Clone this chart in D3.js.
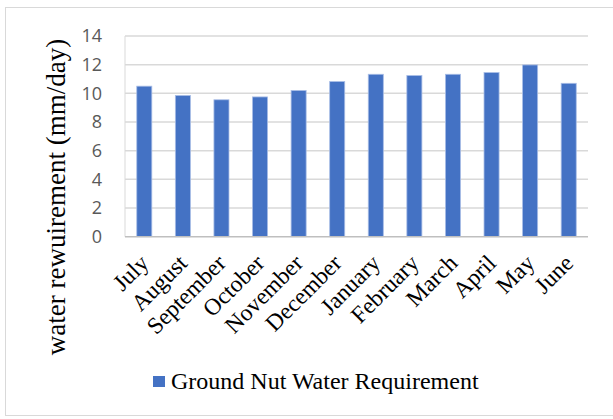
<!DOCTYPE html>
<html>
<head>
<meta charset="utf-8">
<script src="https://cdn.jsdelivr.net/npm/d3@7"></script>
<style>
  body { margin: 0; background: #fff; }
</style>
</head>
<body>
<svg id="chart" width="613" height="419"></svg>
<script>
// values
const months = ["July", "August", "September", "October", "November", "December",
                "January", "February", "March", "April", "May", "June"];
const requirement = [10.5, 9.85, 9.55, 9.75, 10.2, 10.82, 11.33, 11.24, 11.33, 11.45, 11.98, 10.7];
const yTicks = [0, 2, 4, 6, 8, 10, 12, 14];
const seriesName = "Ground Nut Water Requirement";
const yTitle = "water rewuirement (mm/day)";

const serif = "Liberation Serif";
const svg = d3.select("#chart");
const margin = { top: 36, right: 25, bottom: 182.3, left: 125 };
const width = 613 - margin.left - margin.right;
const height = 419 - margin.top - margin.bottom;

// outer chart border
svg.append("rect")
   .attr("x", 5.5).attr("y", 7.5)
   .attr("width", 640).attr("height", 408)
   .attr("fill", "none")
   .attr("stroke", "#d9d9d9");

const g = svg.append("g").attr("transform", `translate(${margin.left},${margin.top})`);

const x = d3.scaleBand().domain(months).range([0, width]).paddingInner(0.61).paddingOuter(0.305);
const y = d3.scaleLinear().domain([0, 14]).range([height, 0]);

// gridlines
g.append("g")
 .selectAll("line")
 .data(yTicks.slice(1))
 .join("line")
 .attr("x1", 0).attr("x2", width)
 .attr("y1", d => y(d)).attr("y2", d => y(d))
 .attr("stroke", "#d9d9d9")
 .attr("stroke-width", 1.5);

// left border line of plot
g.append("line")
 .attr("x1", 0).attr("x2", 0)
 .attr("y1", 0).attr("y2", height)
 .attr("stroke", "#d9d9d9");

// y axis labels
const yAxis = g.append("g")
 .call(d3.axisLeft(y).tickValues(yTicks).tickSize(0).tickPadding(23));
yAxis.attr("font-family", "Open Sans").attr("font-size", 18);
yAxis.select(".domain").remove();
yAxis.selectAll("text").attr("fill", "#595959");

// bars
g.append("g")
 .selectAll("rect")
 .data(requirement)
 .join("rect")
 .attr("x", (d, i) => x(months[i]))
 .attr("y", d => y(d))
 .attr("width", x.bandwidth())
 .attr("height", d => height - y(d))
 .attr("fill", "#4472c4")
 .attr("stroke", "#a8bde6")
 .attr("stroke-width", 0.8);

// x baseline
g.append("line")
 .attr("x1", 0).attr("x2", width)
 .attr("y1", height).attr("y2", height)
 .attr("stroke", "#bfbfbf")
 .attr("stroke-width", 1.5);

// month labels, rotated
g.append("g")
 .selectAll("text")
 .data(months)
 .join("text")
 .attr("transform", d => `translate(${x(d) + x.bandwidth() / 2},${height + 22}) rotate(-45)`)
 .attr("text-anchor", "end")
 .attr("dy", "0.35em")
 .attr("font-family", serif)
 .attr("font-size", 23.5)
 .attr("fill", "#000")
 .text(d => d);

// y title
svg.append("text")
 .attr("transform", "translate(56,197) rotate(-90)")
 .attr("text-anchor", "middle")
 .attr("dy", "0.35em")
 .attr("font-family", serif)
 .attr("font-size", 27)
 .attr("fill", "#000")
 .text(yTitle);

// legend
const legend = svg.append("g").attr("transform", "translate(153,376)");
legend.append("rect")
 .attr("width", 12).attr("height", 11)
 .attr("fill", "#4472c4");
legend.append("text")
 .attr("x", 18).attr("y", 13)
 .attr("font-family", serif)
 .attr("font-size", 24)
 .attr("fill", "#000")
 .text(seriesName);
</script>
</body>
</html>
